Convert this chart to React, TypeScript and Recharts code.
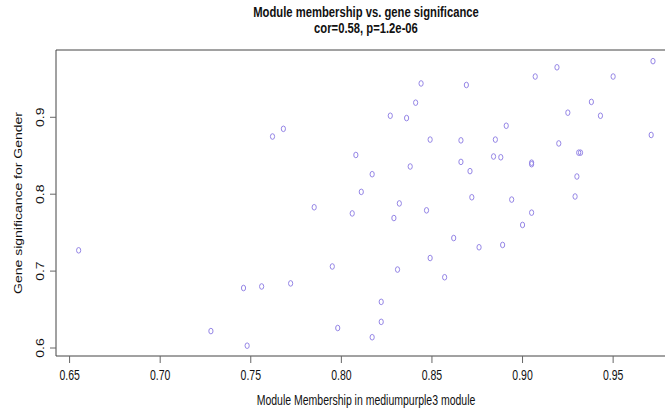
import { ScatterChart, Scatter, XAxis, YAxis, ReferenceArea, Customized } from 'recharts';

// module membership (x) and gene significance (y), one entry per gene
const membership = [
  0.844, 0.869, 0.841, 0.827, 0.836, 0.768, 0.762, 0.849, 0.866, 0.808,
  0.866, 0.838, 0.871, 0.817, 0.811, 0.972, 0.919, 0.907, 0.95, 0.938,
  0.925, 0.943, 0.891, 0.971, 0.885, 0.92, 0.931, 0.932, 0.884, 0.888,
  0.905, 0.905, 0.93, 0.872, 0.894, 0.929, 0.905, 0.9, 0.876, 0.889,
  0.655, 0.746, 0.756, 0.728, 0.748, 0.785, 0.832, 0.806, 0.829, 0.847,
  0.862, 0.795, 0.849, 0.831, 0.857, 0.772, 0.822, 0.822, 0.798, 0.817,
];
const significance = [
  0.944, 0.942, 0.919, 0.902, 0.899, 0.885, 0.875, 0.871, 0.87, 0.851,
  0.842, 0.836, 0.83, 0.826, 0.803, 0.973, 0.965, 0.953, 0.953, 0.92,
  0.906, 0.902, 0.889, 0.877, 0.871, 0.866, 0.854, 0.854, 0.849, 0.848,
  0.839, 0.841, 0.823, 0.796, 0.793, 0.797, 0.776, 0.76, 0.731, 0.734,
  0.727, 0.678, 0.68, 0.622, 0.603, 0.783, 0.788, 0.775, 0.769, 0.779,
  0.743, 0.706, 0.717, 0.702, 0.692, 0.684, 0.66, 0.634, 0.626, 0.614,
];
const xTicks = [0.65, 0.7, 0.75, 0.8, 0.85, 0.9, 0.95];
const yTicks = [0.6, 0.7, 0.8, 0.9];
const xDomain = [0.6425, 0.9847];
const yDomain = [0.5896, 0.9875];

const points = membership.map((mm, i) => ({ mm, gs: significance[i] }));

const FONT = '"Liberation Sans", Arial, sans-serif';
const SX = 0.75; // the source image was narrowed horizontally, text too
const W = 665;
const H = 410;

function XTick(props: any) {
  const { x, y, payload } = props;
  return (
    <text transform={`translate(${x},${y}) scale(${SX},1)`} dy="0.71em" textAnchor="middle" fill="#111" fontSize={14} fontFamily={FONT}>
      {payload.value.toFixed(2)}
    </text>
  );
}

function YTick(props: any) {
  const { x, y, payload } = props;
  return (
    <text transform={`translate(${x},${y}) scale(${SX},1) rotate(-90)`} dy="0.35em" textAnchor="middle" fill="#111" fontSize={14} fontFamily={FONT}>
      {payload.value.toFixed(1)}
    </text>
  );
}

function Dot(props: any) {
  return <ellipse cx={props.cx} cy={props.cy} rx={2.8 * SX} ry={2.8} fill="none" stroke="#8f80e4" strokeWidth={0.95} />;
}

function Titles() {
  return (
    <g fontFamily={FONT} fill="#111" textAnchor="middle">
      <text transform={`translate(366,17) scale(${SX},1)`} fontSize={15} fontWeight="bold">
        Module membership vs. gene significance
      </text>
      <text transform={`translate(366,33) scale(${SX},1)`} fontSize={15} fontWeight="bold">
        cor=0.58, p=1.2e-06
      </text>
      <text transform={`translate(366,405) scale(${SX},1)`} fontSize={14}>
        Module Membership in mediumpurple3 module
      </text>
      <text transform={`translate(18,203) scale(${SX},1) rotate(-90)`} dy="0.35em" fontSize={14}>
        Gene significance for Gender
      </text>
    </g>
  );
}

export default function App() {
  return (
    <div style={{ position: 'absolute', left: 0, top: 0, width: W, height: H, overflow: 'hidden', background: '#fff' }}>
      <ScatterChart width={W} height={H} margin={{ top: 50, right: -11, bottom: 0, left: 0 }}>
        <XAxis
          type="number"
          dataKey="mm"
          domain={xDomain}
          ticks={xTicks}
          allowDataOverflow
          height={54}
          axisLine={false}
          tickSize={7}
          tickMargin={7}
          tickLine={{ stroke: '#666' }}
          tick={<XTick />}
        />
        <YAxis
          type="number"
          dataKey="gs"
          domain={yDomain}
          ticks={yTicks}
          allowDataOverflow
          width={56}
          axisLine={false}
          tickSize={6}
          tickMargin={10}
          tickLine={{ stroke: '#666' }}
          tick={<YTick />}
        />
        <ReferenceArea
          x1={xDomain[0]}
          x2={xDomain[1]}
          y1={yDomain[0]}
          y2={yDomain[1]}
          fill="none"
          stroke="#444"
          strokeWidth={1}
          ifOverflow="visible"
        />
        <Scatter data={points} shape={<Dot />} isAnimationActive={false} />
        <Customized component={<Titles />} />
      </ScatterChart>
    </div>
  );
}
